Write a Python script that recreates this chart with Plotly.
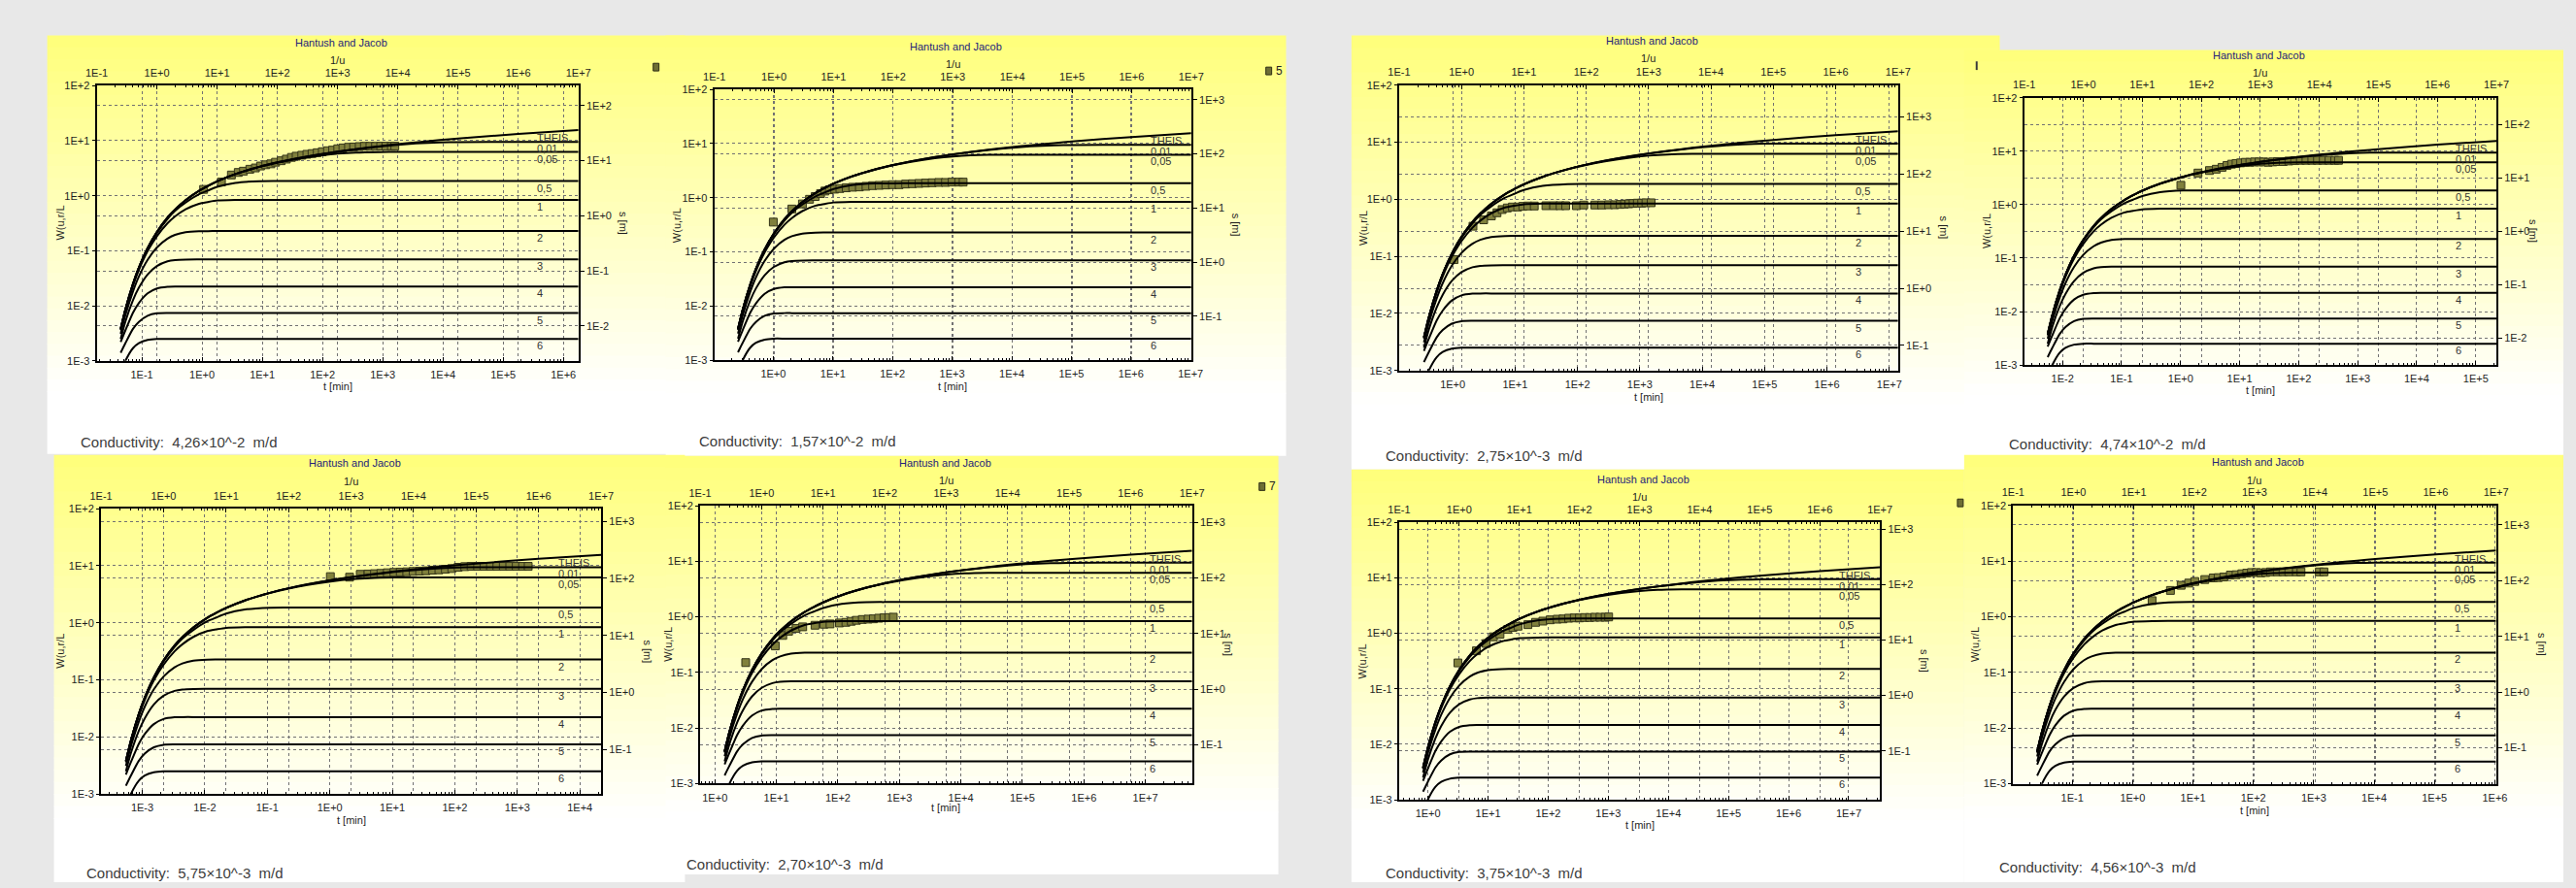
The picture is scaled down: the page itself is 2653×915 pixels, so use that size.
import math
import plotly.graph_objects as go

# ---------------- data ----------------
# type curves (shared by all panels): 1/u and W(u, r/L)
INV_U = [0.25, 0.3, 0.4, 0.5, 0.7, 1, 1.5, 2, 3, 5, 7, 10, 20, 50, 100, 200, 500,
         1e3, 2e3, 5e3, 1e4, 2e4, 5e4, 1e5, 1e6, 1e7]
W_THEIS = [0.0038, 0.0086, 0.0249, 0.0489, 0.111, 0.219, 0.400, 0.560, 0.829, 1.223, 1.500, 1.823, 2.468,
           3.355, 4.038, 4.726, 5.639, 6.332, 7.024, 7.940, 8.633, 9.326, 10.24, 10.94, 13.24, 15.54]
W_R001 = [0.0038, 0.0086, 0.0249, 0.0489, 0.111, 0.219, 0.400, 0.560, 0.829, 1.223, 1.500, 1.823, 2.468,
          3.354, 4.036, 4.721, 5.627, 6.307, 6.975, 7.813, 8.398, 8.883, 9.296, 9.418, 9.442, 9.442]
W_R005 = [0.0038, 0.0086, 0.0249, 0.0489, 0.111, 0.219, 0.400, 0.559, 0.828, 1.221, 1.497, 1.818, 2.456,
          3.320, 3.975, 4.600, 5.350, 5.797, 6.082, 6.217, 6.228, 6.228, 6.228, 6.228, 6.228, 6.228]
W_R05 = [0.0037, 0.0085, 0.0244, 0.0478, 0.108, 0.210, 0.378, 0.529, 0.749, 1.062, 1.240, 1.447, 1.710,
         1.839, 1.848, 1.849, 1.849, 1.849, 1.849, 1.849, 1.849, 1.849, 1.849, 1.849, 1.849, 1.849]
W_R1 = [0.0036, 0.0081, 0.0230, 0.0445, 0.098, 0.184, 0.317, 0.421, 0.567, 0.715, 0.767, 0.818, 0.840,
        0.842, 0.842, 0.842, 0.842, 0.842, 0.842, 0.842, 0.842, 0.842, 0.842, 0.842, 0.842, 0.842]
W_R2 = [0.0031, 0.0068, 0.0182, 0.0338, 0.0683, 0.1147, 0.1664, 0.1945, 0.2178, 0.2267, 0.2276, 0.2278,
        0.2278, 0.2278, 0.2278, 0.2278, 0.2278, 0.2278, 0.2278, 0.2278, 0.2278, 0.2278, 0.2278, 0.2278,
        0.2278, 0.2278]
W_R3 = [0.0025, 0.0052, 0.0126, 0.0212, 0.0371, 0.0528, 0.0643, 0.0679, 0.0693, 0.0695, 0.0695, 0.0695,
        0.0695, 0.0695, 0.0695, 0.0695, 0.0695, 0.0695, 0.0695, 0.0695, 0.0695, 0.0695, 0.0695, 0.0695,
        0.0695, 0.0695]
W_R4 = [0.0022, 0.0036, 0.0075, 0.0112, 0.0168, 0.0206, 0.0221, 0.0223, 0.0223, 0.0223, 0.0223, 0.0223,
        0.0223, 0.0223, 0.0223, 0.0223, 0.0223, 0.0223, 0.0223, 0.0223, 0.0223, 0.0223, 0.0223, 0.0223,
        0.0223, 0.0223]
W_R5 = [0.0014, 0.0021, 0.0038, 0.0051, 0.0066, 0.0073, 0.0074, 0.0074, 0.0074, 0.0074, 0.0074, 0.0074,
        0.0074, 0.0074, 0.0074, 0.0074, 0.0074, 0.0074, 0.0074, 0.0074, 0.0074, 0.0074, 0.0074, 0.0074,
        0.0074, 0.0074]
W_R6 = [0.0006, 0.0010, 0.0017, 0.0021, 0.0024, 0.0025, 0.0025, 0.0025, 0.0025, 0.0025, 0.0025, 0.0025,
        0.0025, 0.0025, 0.0025, 0.0025, 0.0025, 0.0025, 0.0025, 0.0025, 0.0025, 0.0025, 0.0025, 0.0025,
        0.0025, 0.0025]
CURVE_LABELS = ["THEIS", "0,01", "0,05", "0,5", "1", "2", "3", "4", "5", "6"]
CURVES = [W_THEIS, W_R001, W_R005, W_R05, W_R1, W_R2, W_R3, W_R4, W_R5, W_R6]

# measured drawdown data, t [min] and s [m], one pair per panel
T1 = [1.06, 2.1, 3.07, 3.99, 4.86, 6.21, 7.69, 9.36, 11.4, 13.9, 16.6, 20.6, 25.1, 30.5, 36.5, 45.2, 55,
      67, 81.6, 99.3, 121, 147, 179, 218, 270, 329, 407, 496, 613, 759, 925, 1127, 1394, 1589]
S1 = [3.02, 4.11, 5.51, 6.13, 6.47, 7.01, 7.40, 8.02, 8.45, 8.79, 9.40, 10.0, 10.7, 11.5, 12.1, 12.6, 13.1,
      13.5, 14.0, 14.6, 15.2, 15.6, 16.5, 17.1, 17.6, 17.8, 18.1, 18.3, 18.3, 18.3, 18.4, 18.4, 18.4, 18.4]
T2 = [1.0, 2.05, 3.08, 4.05, 5.05, 6.2, 7.35, 8.7, 10.7, 13.1, 16.7, 21.5, 27.8, 35.9, 46.3, 59.8, 77.3,
      99.8, 129, 166, 215, 278, 359, 463, 598, 773, 998, 1288, 1528]
S2 = [5.5, 9.6, 11.9, 14.5, 16.3, 18.5, 20.6, 21.7, 22.3, 22.9, 23.6, 24.2, 24.5, 25.2, 25.9, 26.2, 26.6,
      27.0, 27.0, 27.7, 28.1, 28.5, 28.9, 29.3, 29.7, 29.7, 30.1, 30.1, 30.1]
T3 = [1.05, 2.11, 3.13, 4.17, 5.13, 6.2, 7.5, 9.06, 11.0, 13.3, 16.0, 20.3, 31.2, 41.5, 52.6, 64.7, 96.2,
      126, 190, 245, 316, 394, 484, 568, 665, 780, 913, 1070, 1253, 1517]
S3 = [3.17, 12.2, 15.8, 18.5, 21.0, 23.9, 25.5, 26.5, 26.5, 27.2, 27.6, 27.6, 27.9, 27.9, 27.9, 27.9, 27.9,
      28.7, 28.7, 28.7, 29.0, 29.0, 29.4, 29.8, 30.2, 30.6, 31.0, 31.0, 31.4, 31.4]
T4 = [1.01, 1.97, 3.08, 4.02, 5.03, 6.1, 7.3, 8.7, 10.4, 12.5, 14.9, 17.9, 21.3, 25.5, 30.5, 36.5, 43.6,
      54.6, 68.2, 85.3, 107, 133, 167, 208, 261, 326, 407, 473]
S4 = [7.21, 12.2, 13.6, 14.4, 15.6, 16.9, 17.9, 18.4, 18.9, 19.4, 19.4, 19.7, 19.7, 19.7, 19.4, 19.7, 20.0,
      20.0, 20.5, 20.8, 21.1, 21.1, 21.1, 21.1, 21.1, 21.1, 21.1, 21.1]
T5 = [1.02, 2.07, 3.07, 4.09, 5.18, 6.57, 8.3, 10.6, 13.4, 17.0, 21.5, 27.3, 34.6, 43.9, 55.6, 70.5, 89.3,
      113, 144, 182, 231, 292, 371, 470, 596, 755, 957, 1213, 1490]
S5 = [107, 104.7, 117.5, 119, 120.5, 122, 125, 127, 128.5, 130, 132, 133.6, 135.3, 138.8, 140.6, 144.3, 148,
      156, 160, 162, 162, 162, 162, 162, 162, 162, 162, 162, 162]
T6 = [3.17, 9.6, 12.7, 15.8, 20.9, 26.8, 42.5, 59.2, 74.6, 106, 135, 165, 201, 250, 310, 378, 461, 562,
      674, 796]
S6 = [3.0, 5.98, 9.25, 11.0, 12.4, 13.2, 14.1, 14.7, 14.9, 15.5, 15.9, 16.6, 17.3, 17.9, 18.2, 18.4, 18.9,
      19.2, 19.4, 19.7]
T7 = [3.15, 6.4, 9.3, 12.3, 15.8, 21.2, 25.9, 31.5, 46, 61.8, 81.8, 108, 141, 177, 219, 272, 331, 404,
      491, 598, 729, 889, 1014]
S7 = [3.86, 6.38, 8.65, 11.4, 12.7, 15.5, 16.8, 17.7, 18.9, 20.8, 21.9, 23.1, 23.7, 24.0, 24.7, 25.0, 25.0,
      25.4, 25.4, 25.7, 25.7, 25.7, 26.0]
T8 = [2.1, 4.23, 6.36, 8.5, 10.7, 15.7, 21.6, 26.1, 32.5, 41.6, 51.7, 64.4, 77.8, 92.7, 112, 133, 161,
      192, 249, 310, 386, 517, 615, 1238, 1475]
S8 = [43.7, 66.7, 82.4, 90.4, 96.6, 104.6, 111.8, 113.3, 116.2, 125.8, 127.6, 132.8, 136.3, 140, 140, 138,
      140, 143.6, 143.6, 143.6, 143.6, 143.6, 143.6, 143.6, 143.6]
T_DATA = [T1, T2, T3, T4, T5, T6, T7, T8]
S_DATA = [S1, S2, S3, S4, S5, S6, S7, S8]
CONDUCTIVITY = ["4,26×10^-2  m/d", "1,57×10^-2  m/d", "2,75×10^-3  m/d", "4,74×10^-2  m/d",
                "5,75×10^-3  m/d", "2,70×10^-3  m/d", "3,75×10^-3  m/d", "4,56×10^-3  m/d"]
LEGEND_TEXT = ["", "5", None, None, None, "7", "", None]

# ---------------- layout (pixel positions of the pasted screenshots) ----------------
FIG_W, FIG_H = 2653, 915
FONT = "Liberation Sans, Arial, Helvetica, sans-serif"
GRID = "#727272"

PANELS = [
    dict(bg=(37, 31, 700, 468), plot=(88.4, 83.3, 589.3, 370.7), tl=-1.75, st=2.365, title=(343, 39),
         u=57, tm=397, wl=51, sl=636, cond=(71, 455), leg=(670, 64)),
    dict(bg=(680, 31, 1325, 470), plot=(730.5, 87.3, 1226.4, 370.0), tl=-0.99, st=3.19, title=(982, 43),
         u=61, tm=397, wl=691, sl=1273, cond=(714, 454), leg=(1307, 68)),
    dict(bg=(1393, 31, 2067, 484), plot=(1442.5, 82.7, 1961.3, 380.7), tl=-0.86, st=3.56, title=(1706, 36),
         u=55, tm=408, wl=1404.5, sl=2009, cond=(1427, 470), leg=None),
    dict(bg=(2030, 46, 2653, 470), plot=(2092.4, 96, 2583.4, 375), tl=-2.65, st=2.495, title=(2337, 52),
         u=70, tm=401, wl=2054, sl=2621, cond=(2076, 457), leg=None),
    dict(bg=(44, 469, 700, 915), plot=(92.9, 525, 612.9, 823), tl=-3.66, st=3.22, title=(357, 477),
         u=497, tm=850, wl=51, sl=661, cond=(77, 905), leg=None),
    dict(bg=(680, 470, 1317, 907), plot=(715.8, 522, 1227.3, 812), tl=-0.24, st=3.30, title=(971, 477),
         u=496, tm=837, wl=683, sl=1265, cond=(701, 896), leg=(1300, 502)),
    dict(bg=(1393, 484, 2030, 915), plot=(1442.5, 539.3, 1942.5, 829), tl=-0.48, st=3.12, title=(1696, 494),
         u=513, tm=855, wl=1404.5, sl=1989, cond=(1427, 905), leg=(2026, 519)),
    dict(bg=(2030, 469, 2653, 915), plot=(2080.9, 521.7, 2583, 812.3), tl=-1.98, st=3.35, title=(2336, 476),
         u=495, tm=840, wl=2041, sl=2631, cond=(2065, 899), leg=None),
]


def px(x):
    return x / FIG_W


def py(y):
    return 1 - y / FIG_H


def aid(letter, n):
    return letter if n == 1 else f"{letter}{n}"


def akey(letter, n):
    return f"{letter}axis" if n == 1 else f"{letter}axis{n}"


def exp_ticks(lo, hi):
    exps = list(range(math.ceil(lo - 1e-9), math.floor(hi + 1e-9) + 1))
    return [10.0 ** e for e in exps], [f"1E{e:+d}" for e in exps]


def minor_ticks(lo, hi):
    vals = []
    for e in range(math.floor(lo) - 1, math.ceil(hi) + 1):
        for m in range(2, 10):
            v = m * 10.0 ** e
            if lo < math.log10(v) < hi:
                vals.append(v)
    return vals


def text_at(x, y, text, size=11, color="#1e1e1e", angle=0, xanchor="center"):
    return dict(x=px(x), y=py(y), xref="paper", yref="paper", text=text, showarrow=False,
                xanchor=xanchor, yanchor="middle", textangle=angle, borderpad=0,
                font=dict(family=FONT, size=size, color=color))


fig = go.Figure()
shapes = []
annotations = []
axes = {}

TOP_B = 122
for k, p in enumerate(PANELS):
    # ---- panel background (yellow -> white gradient) ----
    x0, y0, x1, y1 = p["bg"]
    white_at = y0 + 0.85 * (y1 - y0)
    nb = 30
    for i in range(nb):
        ya = y0 + (white_at - y0) * i / nb
        yb = y0 + (white_at - y0) * (i + 1) / nb + 0.8
        b = int(round(TOP_B + (255 - TOP_B) * (i + 0.5) / nb))
        shapes.append(dict(type="rect", xref="paper", yref="paper", x0=px(x0), x1=px(x1),
                           y0=py(yb), y1=py(ya), fillcolor=f"rgb(255,255,{b})",
                           line=dict(width=0), layer="below"))
    shapes.append(dict(type="rect", xref="paper", yref="paper", x0=px(x0), x1=px(x1),
                       y0=py(y1), y1=py(white_at), fillcolor="white", line=dict(width=0), layer="below"))

    # ---- axes ----
    ixt, ixu, iyw, iys = 2 * k + 1, 2 * k + 2, 2 * k + 1, 2 * k + 2
    l, t, r, b_ = p["plot"]
    common = dict(type="log", showline=True, linecolor="black", linewidth=2, showgrid=True,
                  gridcolor=GRID, griddash="3px,3px", gridwidth=1, zeroline=False,
                  tickfont=dict(family=FONT, size=11, color="#1e1e1e"), tickmode="array",
                  tickcolor="black", fixedrange=True)
    tl = p["tl"]
    tv, tt = exp_ticks(tl, tl + 8)
    axes[akey("x", ixt)] = dict(common, domain=[px(l), px(r)], anchor=aid("y", iyw), side="bottom",
                                range=[tl, tl + 8], tickvals=tv, ticktext=tt, ticks="inside", ticklen=4,
                                ticklabelstandoff=3,
                                minor=dict(tickmode="array", tickvals=minor_ticks(tl, tl + 8), ticks="inside",
                                           ticklen=2, tickcolor="black", showgrid=False))
    uv, ut = exp_ticks(-1, 7)
    axes[akey("x", ixu)] = dict(common, overlaying=aid("x", ixt), anchor=aid("y", iyw), side="top",
                                range=[-1.0005, 7.0005], tickvals=uv, ticktext=ut, ticks="inside", ticklen=4,
                                ticklabelstandoff=3,
                                minor=dict(tickmode="array", tickvals=minor_ticks(-1, 7), ticks="inside",
                                           ticklen=2, tickcolor="black", showgrid=False))
    wv, wt = exp_ticks(-3, 2)
    axes[akey("y", iyw)] = dict(common, domain=[py(b_), py(t)], anchor=aid("x", ixt), side="left",
                                range=[-3.0005, 2.0005], tickvals=wv, ticktext=wt, ticks="outside", ticklen=3)
    st = p["st"]
    sv, stt = exp_ticks(st - 5, st)
    axes[akey("y", iys)] = dict(common, overlaying=aid("y", iyw), anchor=aid("x", ixt), side="right",
                                range=[st - 5, st], tickvals=sv, ticktext=stt, ticks="outside", ticklen=4)

    # ---- traces ----
    fig.add_trace(go.Scatter(x=[], y=[], xaxis=aid("x", ixt), yaxis=aid("y", iyw), showlegend=False,
                             hoverinfo="skip"))
    for curve in CURVES:
        fig.add_trace(go.Scatter(x=INV_U, y=curve, xaxis=aid("x", ixu), yaxis=aid("y", iyw), mode="lines",
                                 line=dict(color="black", width=2, shape="spline", smoothing=0.6),
                                 showlegend=False, hoverinfo="skip"))
    fig.add_trace(go.Scatter(x=T_DATA[k], y=S_DATA[k], xaxis=aid("x", ixt), yaxis=aid("y", iys),
                             mode="markers", showlegend=False,
                             marker=dict(symbol="square", size=8, color="#80803c",
                                         line=dict(color="#34341a", width=1))))

    # ---- curve labels ----
    for name, curve in zip(CURVE_LABELS, CURVES):
        if name == "THEIS":
            yv, ya_, ysh = W_R001[-1], "bottom", -3
        else:
            yv, ya_, ysh = curve[-1], "top", 0
        annotations.append(dict(x=6.3, y=math.log10(yv), xref=aid("x", ixu), yref=aid("y", iyw),
                                text=name, showarrow=False, xanchor="left", yanchor=ya_, yshift=ysh,
                                borderpad=0, font=dict(family=FONT, size=11, color="#333333")))

    # ---- texts ----
    cx = (l + r) / 2
    cy = (t + b_) / 2
    annotations += [
        text_at(p["title"][0], p["title"][1], "Hantush and Jacob", color="#24247a"),
        text_at(cx, p["u"], "1/u"),
        text_at(cx, p["tm"], "t [min]"),
        text_at(p["wl"], cy, "W(u,r/L", angle=-90),
        text_at(p["sl"], cy, "s [m]", angle=90),
        text_at(p["cond"][0], p["cond"][1], "Conductivity:  " + CONDUCTIVITY[k], size=15,
                color="#3c3c3c", xanchor="left"),
    ]
    if p["leg"] is not None:
        lx, ly = p["leg"]
        shapes.append(dict(type="rect", xref="paper", yref="paper", x0=px(lx - 3), x1=px(lx + 3),
                           y0=py(ly + 4), y1=py(ly - 4), fillcolor="#6e6e34",
                           line=dict(color="#2e2e16", width=1), layer="above"))
        if LEGEND_TEXT[k]:
            annotations.append(text_at(lx + 6, ly, LEGEND_TEXT[k], size=12, color="#222222", xanchor="left"))

# thin legend remnant peeking out between panels 3 and 4
shapes.append(dict(type="rect", xref="paper", yref="paper", x0=px(2042), x1=px(2044), y0=py(67), y1=py(58),
                   fillcolor="#3a3a3a", line=dict(width=0), layer="above"))

fig.update_layout(
    width=FIG_W, height=FIG_H, margin=dict(l=0, r=0, t=0, b=0, pad=0),
    paper_bgcolor="#e8e8e8", plot_bgcolor="rgba(0,0,0,0)",
    showlegend=False, shapes=shapes, annotations=annotations,
    font=dict(family=FONT, size=11, color="#1e1e1e"),
    **axes,
)

fig.write_html("out.html", config={"displayModeBar": False},
               post_script="document.body.style.margin='0';document.body.style.overflow='hidden';")
